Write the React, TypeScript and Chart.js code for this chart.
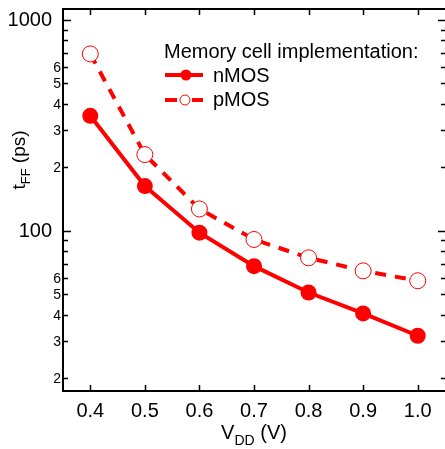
import { useEffect, useRef } from 'react';
import { Chart, registerables } from 'chart.js';

Chart.register(...registerables);

const FONT = '"Liberation Sans", Arial, Helvetica, sans-serif';
const RED = '#ff0000';

// ---- data ----
const vdd = [0.4, 0.5, 0.6, 0.7, 0.8, 0.9, 1.0];
const nmos = [351, 163, 98, 68, 51, 40.6, 31.8];
const pmos = [690, 230, 127, 91, 74.5, 64.6, 58];

const xTicks = [0.4, 0.5, 0.6, 0.7, 0.8, 0.9, 1.0];
const xTickLabels = ['0.4', '0.5', '0.6', '0.7', '0.8', '0.9', '1.0'];
const yTickValues = [20, 30, 40, 50, 60, 70, 80, 90, 100, 200, 300, 400, 500, 600, 700, 800, 900, 1000];
const yTickLabels = ['2', '3', '4', '5', '6', '', '', '', '100', '2', '3', '4', '5', '6', '', '', '', '1000'];
const yMajorTicks = [100, 1000];

const legendTitle = 'Memory cell implementation:';
const seriesNames = ['nMOS', 'pMOS'];

const decor = {
  id: 'decor',
  afterDraw(chart: any) {
    const ctx = chart.ctx as CanvasRenderingContext2D;
    const { left, right, top, bottom } = chart.chartArea;
    const xs = chart.scales.x;
    const ys = chart.scales.y;
    ctx.save();
    ctx.strokeStyle = '#000';
    ctx.fillStyle = '#000';
    ctx.lineWidth = 2;
    ctx.lineCap = 'butt';
    // frame (right edge lies at the canvas edge)
    ctx.beginPath();
    ctx.moveTo(left, top);
    ctx.lineTo(right + 2, top);
    ctx.moveTo(left, bottom + 1);
    ctx.lineTo(left, top - 1);
    ctx.moveTo(left - 1, bottom);
    ctx.lineTo(right + 2, bottom);
    ctx.moveTo(right + 1.5, top);
    ctx.lineTo(right + 1.5, bottom);
    ctx.stroke();

    // x ticks (inward, top and bottom) + labels
    ctx.lineWidth = 1.5;
    ctx.beginPath();
    xTicks.forEach((v) => {
      const px = Math.round(xs.getPixelForValue(v)) + 0.5;
      ctx.moveTo(px, bottom);
      ctx.lineTo(px, bottom - 6);
      ctx.moveTo(px, top);
      ctx.lineTo(px, top + 6);
    });
    ctx.stroke();
    ctx.font = `20px ${FONT}`;
    ctx.textAlign = 'center';
    ctx.textBaseline = 'alphabetic';
    xTicks.forEach((v, i) => {
      ctx.fillText(xTickLabels[i], xs.getPixelForValue(v), bottom + 26);
    });

    // y ticks (inward, left and right) + labels
    yTickValues.forEach((v, i) => {
      const py = Math.round(ys.getPixelForValue(v)) + 0.5;
      const major = yMajorTicks.includes(v);
      const len = major ? 8 : 5;
      ctx.beginPath();
      ctx.moveTo(left, py);
      ctx.lineTo(left + len, py);
      ctx.moveTo(right, py);
      ctx.lineTo(right - len + 1, py);
      ctx.stroke();
      const lab = yTickLabels[i];
      if (lab) {
        ctx.textAlign = 'right';
        ctx.textBaseline = 'middle';
        if (major) {
          ctx.font = `20px ${FONT}`;
          ctx.fillText(lab, left - 11, py);
        } else {
          ctx.font = `14px ${FONT}`;
          ctx.fillText(lab, left - 2, py + 0.5);
        }
      }
    });

    // x title: V_DD (V)
    ctx.textBaseline = 'alphabetic';
    ctx.textAlign = 'left';
    const mainF = `20px ${FONT}`;
    const subF = `14px ${FONT}`;
    ctx.font = mainF;
    const wV = ctx.measureText('V').width;
    const wRest = ctx.measureText(' (V)').width;
    ctx.font = subF;
    const wDD = ctx.measureText('DD').width;
    const totX = wV + wDD + wRest;
    const x0 = (left + right) / 2 - totX / 2;
    const by = 439;
    ctx.font = mainF;
    ctx.fillText('V', x0, by);
    ctx.font = subF;
    ctx.fillText('DD', x0 + wV, by + 6);
    ctx.font = mainF;
    ctx.fillText(' (V)', x0 + wV + wDD, by);

    // y title: t_FF (ps)
    ctx.save();
    ctx.translate(25, 160);
    ctx.rotate(-Math.PI / 2);
    const yMain = `19px ${FONT}`;
    const ySub = `13px ${FONT}`;
    ctx.font = yMain;
    const wt = ctx.measureText('t').width;
    const wps = ctx.measureText(' (ps)').width;
    ctx.font = ySub;
    const wFF = ctx.measureText('FF').width;
    const totY = wt + wFF + wps;
    const sx = -totY / 2;
    ctx.font = yMain;
    ctx.fillText('t', sx, 0);
    ctx.font = ySub;
    ctx.fillText('FF', sx + wt, 5);
    ctx.font = yMain;
    ctx.fillText(' (ps)', sx + wt + wFF, 0);
    ctx.restore();

    // legend
    ctx.font = `20px ${FONT}`;
    ctx.fillStyle = '#000';
    ctx.textAlign = 'left';
    ctx.textBaseline = 'alphabetic';
    ctx.fillText(legendTitle, 164, 58);
    ctx.fillText(seriesNames[0], 213, 82);
    ctx.fillText(seriesNames[1], 213, 106);

    ctx.strokeStyle = RED;
    ctx.fillStyle = RED;
    ctx.lineWidth = 4;
    ctx.beginPath();
    ctx.moveTo(165, 75);
    ctx.lineTo(203, 75);
    ctx.stroke();
    ctx.beginPath();
    ctx.arc(186, 75, 5.5, 0, Math.PI * 2);
    ctx.fill();

    ctx.beginPath();
    ctx.moveTo(165, 100);
    ctx.lineTo(177, 100);
    ctx.moveTo(192, 100);
    ctx.lineTo(203, 100);
    ctx.stroke();
    ctx.beginPath();
    ctx.arc(185, 100, 5, 0, Math.PI * 2);
    ctx.fillStyle = '#fff';
    ctx.fill();
    ctx.lineWidth = 1;
    ctx.strokeStyle = RED;
    ctx.stroke();

    ctx.restore();
  },
};

export default function App() {
  const ref = useRef<HTMLCanvasElement>(null);
  useEffect(() => {
    const chart = new Chart(ref.current as HTMLCanvasElement, {
      type: 'line',
      data: {
        datasets: [
          {
            label: seriesNames[1],
            data: vdd.map((x, i) => ({ x, y: pmos[i] })),
            borderColor: RED,
            borderWidth: 4,
            borderDash: [11, 9],
            pointRadius: 8,
            pointBackgroundColor: '#fff',
            pointBorderColor: RED,
            pointBorderWidth: 1,
            tension: 0,
          },
          {
            label: seriesNames[0],
            data: vdd.map((x, i) => ({ x, y: nmos[i] })),
            borderColor: RED,
            borderWidth: 4,
            pointRadius: 8,
            pointBackgroundColor: RED,
            pointBorderColor: RED,
            pointBorderWidth: 0,
            tension: 0,
          },
        ],
      },
      options: {
        animation: false,
        responsive: false,
        devicePixelRatio: 1,
        layout: { autoPadding: false, padding: { top: 9, right: 0, left: 0, bottom: 0 } },
        plugins: { legend: { display: false }, tooltip: { enabled: false } },
        scales: {
          x: {
            type: 'linear',
            min: 0.35,
            max: 1.05,
            grid: { display: false },
            border: { display: false },
            ticks: { display: false },
            afterFit: (s: any) => {
              s.height = 58;
            },
          },
          y: {
            type: 'logarithmic',
            min: 17.4,
            max: 1127,
            grid: { display: false },
            border: { display: false },
            ticks: { display: false },
            afterFit: (s: any) => {
              s.width = 63;
            },
          },
        },
      },
      plugins: [decor],
    } as any);
    return () => chart.destroy();
  }, []);
  return (
    <div style={{ position: 'absolute', left: 0, top: 0, width: 445, height: 449 }}>
      <canvas ref={ref} width={445} height={449} style={{ display: 'block' }} />
    </div>
  );
}
